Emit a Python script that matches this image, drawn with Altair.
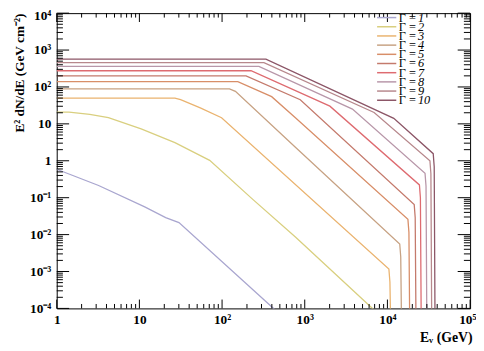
import math
import altair as alt
import pandas as pd

# ---- curves: E (GeV) and E^2 dN/dE (GeV cm^-2) ----
E_g1 = [1, 3.21, 11.6, 20.8, 30.1, 420, 501]
V_g1 = [0.59, 0.214, 0.0562, 0.0288, 0.0211, 1.0e-4, 6.9e-5]

E_g2 = [1, 1.41, 2.51, 4.22, 10.5, 26.9, 70.8, 237, 771, 6600, 7940]
V_g2 = [20.9, 20.7, 18.2, 14.7, 7.36, 3.11, 1.03, 0.0885, 0.00857, 1.0e-4, 6.9e-5]

E_g3 = [1, 26.9, 31.5, 54.5, 98.6, 10420, 10720, 10960]
V_g3 = [50.1, 50.1, 45.6, 27.2, 14.7, 0.00117, 5.2e-4, 3.2e-5]

E_g4 = [1, 123, 145, 771, 14090, 14490, 14830]
V_g4 = [89.1, 89.1, 75.9, 2.33, 0.00558, 0.00251, 3.2e-5]

E_g5 = [1, 155, 398, 771, 17700, 18200, 18620]
V_g5 = [140, 140, 54.6, 14.7, 0.0259, 0.0115, 3.2e-5]

E_g6 = [1, 195, 883, 21090, 21680, 22180]
V_g6 = [200, 200, 45.2, 0.065, 0.0288, 3.2e-5]

E_g7 = [1, 224, 2014, 24380, 25060, 25650]
V_g7 = [275, 275, 30.2, 0.222, 0.1, 3.2e-5]

E_g8 = [1, 279, 3776, 28510, 29310, 29990]
V_g8 = [360, 360, 25.1, 0.456, 0.204, 3.2e-5]

E_g9 = [1, 321, 6902, 32660, 33570, 34360]
V_g9 = [454, 454, 20.4, 1.0, 0.447, 3.2e-5]

E_g10 = [1, 339, 11940, 35810, 36810, 37670]
V_g10 = [569, 569, 14.1, 1.56, 0.69, 3.2e-5]

gammas = ["1", "2", "3", "4", "5", "6", "7", "8", "9", "10"]
labels = ["Γ = " + g for g in gammas]
colors = ["#a9a6cf", "#d9cf7f", "#eab36f", "#c7a283", "#d88e68",
          "#c47a6c", "#de6b70", "#b897a9", "#b7888c", "#8c5667"]

x_major = [1, 10, 100, 1000, 10000, 100000]
x_major_text = ["1", "10", "10²", "10³", "10⁴", "10⁵"]
y_major = [1e-4, 1e-3, 1e-2, 1e-1, 1, 10, 100, 1000, 10000]
y_major_text = ["10⁻⁴", "10⁻³", "10⁻²", "10⁻¹", "1", "10", "10²", "10³", "10⁴"]

# ---- build tables ----
series = [(E_g1, V_g1), (E_g2, V_g2), (E_g3, V_g3), (E_g4, V_g4), (E_g5, V_g5),
          (E_g6, V_g6), (E_g7, V_g7), (E_g8, V_g8), (E_g9, V_g9), (E_g10, V_g10)]
rows = []
for lab, (es, vs) in zip(labels, series):
    for i, (e, v) in enumerate(zip(es, vs)):
        rows.append({"E": e, "v": v, "label": lab, "i": i})
df = pd.DataFrame(rows)

leg_df = pd.DataFrame({"label": labels, "num": gammas, "row": list(range(len(labels)))})

x_minor = [m * 10 ** k for k in range(0, 5) for m in range(2, 10)]
y_minor = [m * 10.0 ** k for k in range(-4, 4) for m in range(2, 10)]
dfx_major = pd.DataFrame({"E": x_major})
dfx_minor = pd.DataFrame({"E": x_minor})
dfy_major = pd.DataFrame({"v": y_major})
dfy_minor = pd.DataFrame({"v": y_minor})


def label_expr(vals, texts):
    expr = "''"
    for val, t in reversed(list(zip(vals, texts))):
        k = round(math.log10(val))
        expr = f"(round(log(datum.value)/LN10)=={k}) ? '{t}' : " + expr
    return expr


W, H = 420, 300
FONT = "Liberation Serif"

xscale = alt.Scale(type="log", domain=[1, 1e5], nice=False)
yscale = alt.Scale(type="log", domain=[1e-4, 1e4], nice=False)
cscale = alt.Scale(domain=labels, range=colors)

xaxis = alt.Axis(values=x_major, labelExpr=label_expr(x_major, x_major_text),
                 ticks=False, tickSize=0, domain=False, grid=False,
                 labelFont=FONT, labelFontSize=13.5, labelFontWeight="bold",
                 labelColor="black", labelPadding=4, labelFlush=False,
                 labelOverlap=False,
                 labelAlign=alt.ExprRef("datum.value > 50000 ? 'right' : 'center'"),
                 labelOffset=alt.ExprRef("datum.value > 50000 ? 6 : 0"),
                 title="Eᵥ (GeV)", titleFont=FONT, titleFontSize=14,
                 titleFontWeight="bold", titleColor="black",
                 titleX=W + 2, titleY=30, titleAlign="right", titleBaseline="middle")
yaxis = alt.Axis(values=y_major, labelExpr=label_expr(y_major, y_major_text),
                 ticks=False, tickSize=0, domain=False, grid=False,
                 labelFont=FONT, labelFontSize=13.5, labelFontWeight="bold",
                 labelColor="black", labelPadding=6, labelFlush=False,
                 labelOverlap=False,
                 labelBaseline=alt.ExprRef("datum.value > 5000 ? 'top' : 'middle'"),
                 labelOffset=alt.ExprRef("datum.value > 5000 ? -5 : 0"),
                 title="E² dN/dE (GeV cm⁻²)", titleFont=FONT, titleFontSize=13.5,
                 titleFontWeight="bold", titleColor="black",
                 titleX=-38, titleY=0, titleAngle=270, titleAlign="right",
                 titleBaseline="middle")

xenc = alt.X("E:Q", scale=xscale, axis=xaxis)
yenc = alt.Y("v:Q", scale=yscale, axis=yaxis)

lines = alt.Chart(df).mark_line(clip=True, strokeWidth=1.3).encode(
    x=xenc, y=yenc,
    color=alt.Color("label:N", scale=cscale, legend=None),
    order="i:Q",
)

tick = dict(color="black", strokeWidth=1)
bx_major = alt.Chart(dfx_major).mark_rule(**tick).encode(x=xenc, y=alt.value(H), y2=alt.value(H - 9))
bx_minor = alt.Chart(dfx_minor).mark_rule(**tick).encode(x=xenc, y=alt.value(H), y2=alt.value(H - 4.5))
tx_major = alt.Chart(dfx_major).mark_rule(**tick).encode(x=xenc, y=alt.value(0), y2=alt.value(9))
tx_minor = alt.Chart(dfx_minor).mark_rule(**tick).encode(x=xenc, y=alt.value(0), y2=alt.value(4.5))
ly_major = alt.Chart(dfy_major).mark_rule(**tick).encode(y=yenc, x=alt.value(0), x2=alt.value(12.6))
ly_minor = alt.Chart(dfy_minor).mark_rule(**tick).encode(y=yenc, x=alt.value(0), x2=alt.value(6.3))
ry_major = alt.Chart(dfy_major).mark_rule(**tick).encode(y=yenc, x=alt.value(W), x2=alt.value(W - 12.6))
ry_minor = alt.Chart(dfy_minor).mark_rule(**tick).encode(y=yenc, x=alt.value(W), x2=alt.value(W - 6.3))

main = alt.layer(lines, bx_major, bx_minor, tx_major, tx_minor,
                 ly_major, ly_minor, ry_major, ry_minor)

# legend (top right, inside the frame)
legy = alt.Y("row:Q", scale=alt.Scale(domain=[0, 9], range=[4.5, 88.5]), axis=None)
leg_line = alt.Chart(leg_df).mark_rule(strokeWidth=1.5).encode(
    x=alt.value(325.5), x2=alt.value(345), y=legy,
    color=alt.Color("label:N", scale=cscale, legend=None))
leg_sym = alt.Chart(leg_df).mark_text(align="left", baseline="middle", font=FONT,
                                      fontSize=12.5, color="black").encode(
    x=alt.value(347.5), y=legy, text=alt.value("Γ ="))
leg_num = alt.Chart(leg_df).mark_text(align="left", baseline="middle", font=FONT,
                                      fontSize=12.5, fontStyle="italic",
                                      color="black").encode(
    x=alt.value(367), y=legy, text="num:N")
legend = alt.layer(leg_line, leg_sym, leg_num)

chart = alt.layer(main, legend).resolve_scale(y="independent").properties(
    width=W, height=H,
    autosize=alt.AutoSizeParams(type="none"),
    padding={"left": 49.5, "top": 2.5, "right": 6, "bottom": 38},
    background="white",
).configure_view(stroke="black", strokeWidth=1)

chart.save("out.html", embed_options={"renderer": "svg", "actions": False})
